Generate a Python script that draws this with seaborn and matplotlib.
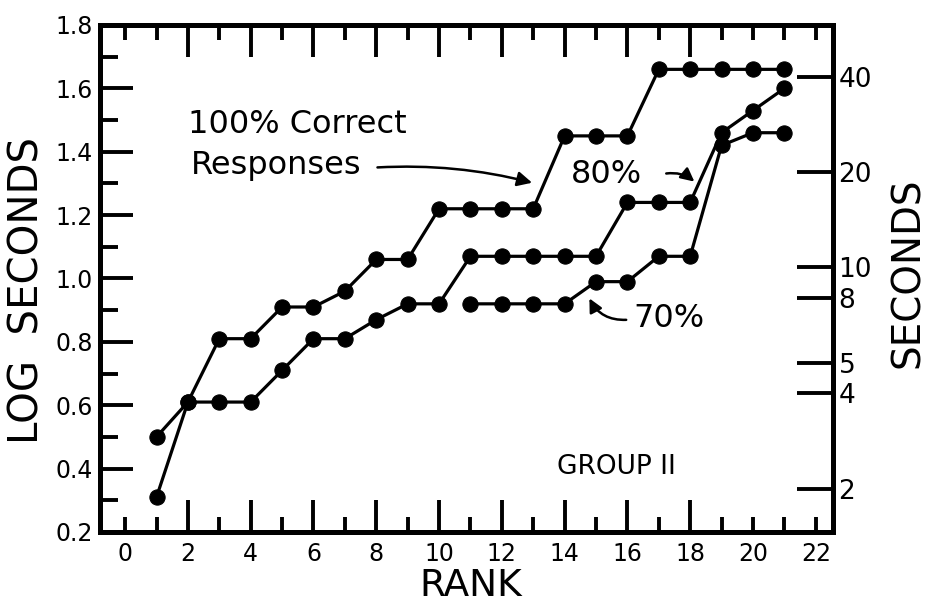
import matplotlib
matplotlib.use("Agg")
import matplotlib.pyplot as plt
from matplotlib.ticker import FixedLocator, NullLocator, FixedFormatter
import pandas as pd
import seaborn as sns

# Response latency (log seconds) by rank, Group II
ranks_all = list(range(1, 22))
log_s_100 = [0.50, 0.61, 0.81, 0.81, 0.91, 0.91, 0.96, 1.06, 1.06, 1.22, 1.22,
             1.22, 1.22, 1.45, 1.45, 1.45, 1.66, 1.66, 1.66, 1.66, 1.66]
log_s_80 = [0.31, 0.61, 0.61, 0.61, 0.71, 0.81, 0.81, 0.87, 0.92, 0.92, 1.07,
            1.07, 1.07, 1.07, 1.07, 1.24, 1.24, 1.24, 1.46, 1.53, 1.60]
ranks_70 = list(range(11, 22))
log_s_70 = [0.92, 0.92, 0.92, 0.92, 0.99, 0.99, 1.07, 1.07, 1.42, 1.46, 1.46]

x_ticks = list(range(0, 23, 2))
y_ticks = [0.2, 0.4, 0.6, 0.8, 1.0, 1.2, 1.4, 1.6, 1.8]
y_tick_labels = ["0.2", "0.4", "0.6", "0.8", "1.0", "1.2", "1.4", "1.6", "1.8"]
sec_ticks = [2, 4, 5, 8, 10, 20, 40]
sec_tick_labels = ["2", "4", "5", "8", "10", "20", "40"]

df = pd.concat([
    pd.DataFrame({"rank": ranks_all, "log_s": log_s_100, "criterion": "100%"}),
    pd.DataFrame({"rank": ranks_all, "log_s": log_s_80, "criterion": "80%"}),
    pd.DataFrame({"rank": ranks_70, "log_s": log_s_70, "criterion": "70%"}),
], ignore_index=True)

sns.set_theme(style="white")
plt.rcParams["font.family"] = ["DejaVu Sans"]
plt.rcParams["text.color"] = "black"
plt.rcParams["xtick.color"] = "black"
plt.rcParams["ytick.color"] = "black"

fig = plt.figure(figsize=(9.26, 6.05), dpi=100)
ax = fig.add_axes([0.108, 0.1207, 0.7916, 0.838])

sns.lineplot(data=df, x="rank", y="log_s", hue="criterion",
             palette={"100%": "black", "80%": "black", "70%": "black"},
             marker="o", markersize=11, markeredgecolor="black",
             linewidth=2.3, legend=False, ax=ax, sort=False)

ax.set_xlim(-0.8, 22.55)
ax.set_ylim(0.2, 1.8)
ax.set_xlabel("")
ax.set_ylabel("")

for s in ax.spines.values():
    s.set_linewidth(3.6)
    s.set_color("black")

# x ticks: long at even ranks, short at odd ranks and the ends
ax.xaxis.set_major_locator(FixedLocator(x_ticks))
ax.xaxis.set_minor_locator(FixedLocator(list(range(1, 22, 2))))
ax.yaxis.set_major_locator(FixedLocator(y_ticks))
ax.yaxis.set_major_formatter(FixedFormatter(y_tick_labels))
ax.yaxis.set_minor_locator(FixedLocator([0.3, 0.5, 0.7, 0.9, 1.1, 1.3, 1.5, 1.7]))

ax.tick_params(axis="x", which="major", direction="in", length=23, width=2.8,
               top=True, bottom=True, labelsize=17, pad=7)
ax.tick_params(axis="x", which="minor", direction="in", length=11, width=2.8,
               top=True, bottom=True)
ax.tick_params(axis="y", which="major", direction="in", length=24, width=2.8,
               left=True, right=False, labelsize=17, pad=5)
ax.tick_params(axis="y", which="minor", direction="in", length=13, width=2.8,
               left=True, right=False)
for t in ax.xaxis.get_major_ticks():
    if t.get_loc() in (0, 22):
        t.tick1line.set_markersize(11)
        t.tick2line.set_markersize(11)

# right-hand axis in seconds
ax2 = ax.twinx()
ax2.set_yscale("log")
ax2.set_ylim(10 ** 0.165, 10 ** 1.765)
ax2.yaxis.set_major_locator(FixedLocator(sec_ticks))
ax2.yaxis.set_major_formatter(FixedFormatter(sec_tick_labels))
ax2.yaxis.set_minor_locator(NullLocator())
ax2.tick_params(axis="y", which="major", direction="in", length=26, width=2.8,
                right=True, left=False, labelsize=19, pad=4)
for s in ax2.spines.values():
    s.set_visible(False)
ax2.grid(False)
ax.grid(False)

# axis titles
fig.text(0.030, 0.52, "LOG  SECONDS", rotation=90, ha="center", va="center",
         fontsize=29)
fig.text(0.508, 1 - 596 / 605, "RANK", ha="center", va="baseline", fontsize=27)
fig.text(0.981, 0.55, "SECONDS", rotation=90, ha="center", va="center",
         fontsize=28)

# annotations
ax.text(2.0, 1.485, "100% Correct", fontsize=23, ha="left", va="center")
ax.text(2.1, 1.355, "Responses", fontsize=23, ha="left", va="center")
ax.annotate("", xy=(13.05, 1.30), xytext=(7.95, 1.35),
            arrowprops=dict(arrowstyle="-|>", color="black", lw=1.8,
                            mutation_scale=22,
                            connectionstyle="arc3,rad=-0.08"))
ax.text(14.2, 1.327, "80%", fontsize=23, ha="left", va="center")
ax.annotate("", xy=(18.2, 1.30), xytext=(17.15, 1.33),
            arrowprops=dict(arrowstyle="-|>", color="black", lw=1.8,
                            mutation_scale=20,
                            connectionstyle="arc3,rad=-0.25"))
ax.text(16.2, 0.875, "70%", fontsize=23, ha="left", va="center")
ax.annotate("", xy=(14.75, 0.945), xytext=(16.05, 0.87),
            arrowprops=dict(arrowstyle="-|>", color="black", lw=1.8,
                            mutation_scale=20,
                            connectionstyle="arc3,rad=-0.35"))
ax.text(13.75, 0.405, "GROUP II", fontsize=19, ha="left", va="center")

fig.savefig("out.png", dpi=100, facecolor="white")
